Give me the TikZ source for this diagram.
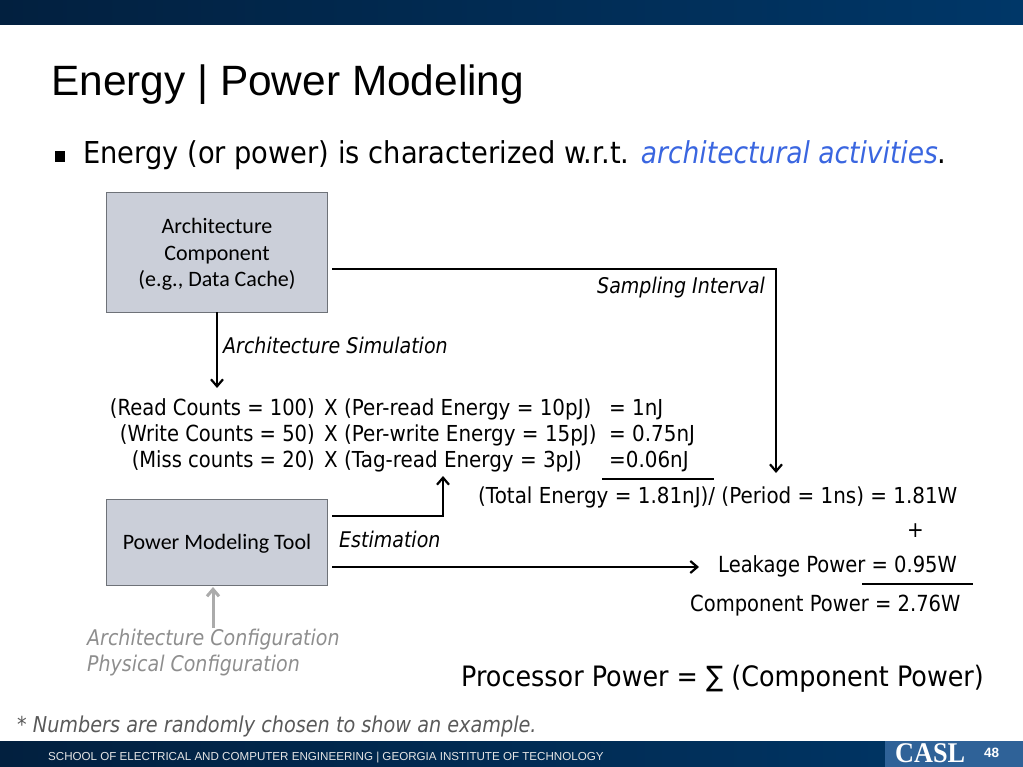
\documentclass[tikz,border=0pt]{standalone}
\usepackage{fontspec}
\usetikzlibrary{arrows.meta}
\setmainfont{DejaVu Sans}
\newfontfamily\tahomaish[FakeStretch=0.905]{DejaVu Sans}
\newfontfamily\tahomaslim[FakeStretch=0.88]{DejaVu Sans}
\newfontfamily\arialish{Liberation Sans}
\newfontfamily\calibriish{Carlito}
\newfontfamily\timesish[FakeStretch=0.92]{Liberation Serif}
\definecolor{bandleft}{HTML}{02203F}
\definecolor{bandright}{HTML}{003768}
\definecolor{boxfill}{HTML}{CBCFD9}
\definecolor{boxedge}{HTML}{6E7278}
\definecolor{bluetext}{HTML}{3A66E0}
\definecolor{greytext}{HTML}{8E8E8E}
\definecolor{greyarrow}{HTML}{ABABAB}
\definecolor{caslblue}{HTML}{2F6298}
\tikzset{
  archbox/.style={draw=boxedge,fill=boxfill,line width=0.8pt,inner sep=0pt},
  boxtext/.style={inner sep=0pt,align=center,font=\calibriish\fontsize{22}{26.5}\selectfont},
  txt/.style={anchor=base west,inner sep=0pt,font=\tahomaish\fontsize{22}{26}\selectfont},
  txtslim/.style={txt,font=\tahomaslim\fontsize{22.2}{26}\selectfont},
  ital/.style={txt,font=\tahomaslim\itshape\fontsize{21.6}{26}\selectfont},
  greyital/.style={ital,text=greytext},
  link/.style={-{Straight Barb[length=7pt,width=12pt]},black,line width=2.2pt},
  rule/.style={black,line width=2pt}
}
\begin{document}
\begin{tikzpicture}[x=1pt,y=-1pt]
\useasboundingbox (0,0) rectangle (1023,767);

% bands at top and bottom
  \shade[left color=bandleft,right color=bandright] (0,0) rectangle (1023,25);
  \shade[left color=bandleft,right color=bandright] (0,741) rectangle (1023,767);
  \fill[caslblue] (885,741) rectangle (1023,767);

% define the texts of the slide
  \node[anchor=base west,inner sep=0pt,font=\arialish\fontsize{42.4}{48}\selectfont] (title) at (51,96) {Energy | Power Modeling};
  \fill[black] (55,151) rectangle (65,162);
  \node[txt,font=\tahomaish\fontsize{30.15}{36}\selectfont] (bullet) at (83,164) {Energy (or power) is characterized w.r.t. {\tahomaslim\itshape\color{bluetext}architectural activities}.};

% define the boxes
  \node[archbox,minimum width=221pt,minimum height=120pt] (arch) at (217,252) {};
  \node[boxtext] (archtxt) at ([yshift=-2.5pt]arch.center)
{Architecture\\Component\\(e.g., Data Cache)};
  \node[archbox,minimum width=221pt,minimum height=86pt] (tool) at (217,542) {};
  \node[boxtext] (tooltxt) at ([yshift=-2pt]tool.center)
{Power Modeling Tool};

% define the equations
  \node[txtslim,anchor=base east] (read)  at (315,415) {(Read Counts = 100)};
  \node[txtslim,anchor=base east] (write) at (315,441) {(Write Counts = 50)};
  \node[txtslim,anchor=base east] (miss)  at (315,467) {(Miss counts = 20)};
  \node[txt] (readx)  at (324,415) {X (Per-read Energy = 10pJ)};
  \node[txt] (writex) at (324,441) {X (Per-write Energy = 15pJ)};
  \node[txt] (missx)  at (324,467) {X (Tag-read Energy = 3pJ)};
  \node[txt] (readv)  at (609,415) {= 1nJ};
  \node[txt] (writev) at (609,441) {= 0.75nJ};
  \node[txt] (missv)  at (609,467) {=0.06nJ};
  \node[txt] (total)  at (478,503) {(Total Energy = 1.81nJ)/ (Period = 1ns) = 1.81W};
  \node[txt] (plus)   at (907,537) {+};
  \node[txtslim] (leak)   at (718,572) {Leakage Power = 0.95W};
  \node[txtslim] (comp)   at (690,611) {Component Power = 2.76W};
  \node[txt,font=\tahomaish\fontsize{28.1}{32}\selectfont] (proc) at (461,686) {Processor Power = ∑ (Component Power)};

% define the labels
  \node[ital] (sampling) at (597,294) {Sampling Interval};
  \node[ital] (archsim)  at (223,354) {Architecture Simulation};
  \node[ital] (estim)    at (339,547) {Estimation};
  \node[greyital] (archconf) at (87,645) {Architecture Configuration};
  \node[greyital] (physconf) at (87,671) {Physical Configuration};
  \node[ital,text=black!65,font=\tahomaslim\itshape\fontsize{21.85}{26}\selectfont] (note) at (17,732) {* Numbers are randomly chosen to show an example.};

% define the footer
  \node[anchor=base west,inner sep=0pt,text=white!90!black,font=\arialish\fontsize{11.6}{14}\selectfont] (footer) at (48,760) {SCHOOL OF ELECTRICAL AND COMPUTER ENGINEERING | GEORGIA INSTITUTE OF TECHNOLOGY};
  \node[anchor=base west,inner sep=0pt,text=white,font=\timesish\bfseries\fontsize{28.5}{30}\selectfont] (casl) at (895,762) {CASL};
  \node[anchor=base west,inner sep=0pt,text=white,font=\arialish\bfseries\fontsize{13.5}{15}\selectfont] (page) at (984,757) {48};

% define the free ends
  \coordinate (a1) at (332,269);
  \coordinate (a2) at (776,473);
  \coordinate (b1) at (217,388);
  \coordinate (c1) at (332,516);
  \coordinate (c2) at (443,476);
  \coordinate (d1) at (332,567);
  \coordinate (d2) at (699,567);
  \coordinate (e1) at (213,628);
  \coordinate (e2) at (213,587);
  \coordinate (r1) at (602,479);
  \coordinate (r2) at (714,479);
  \coordinate (s1) at (862,584);
  \coordinate (s2) at (973,584);

% define the links
  \draw[link] (a1) -| (a2);
  \draw[link] (arch.south) -- (b1);
  \draw[link] (c1) -| (c2);
  \draw[link] (d1) -- (d2);
  \draw[link,draw=greyarrow,line width=3pt] (e1) -- (e2);
  \draw[rule] (r1) -- (r2);
  \draw[rule] (s1) -- (s2);
\end{tikzpicture}
\end{document}
